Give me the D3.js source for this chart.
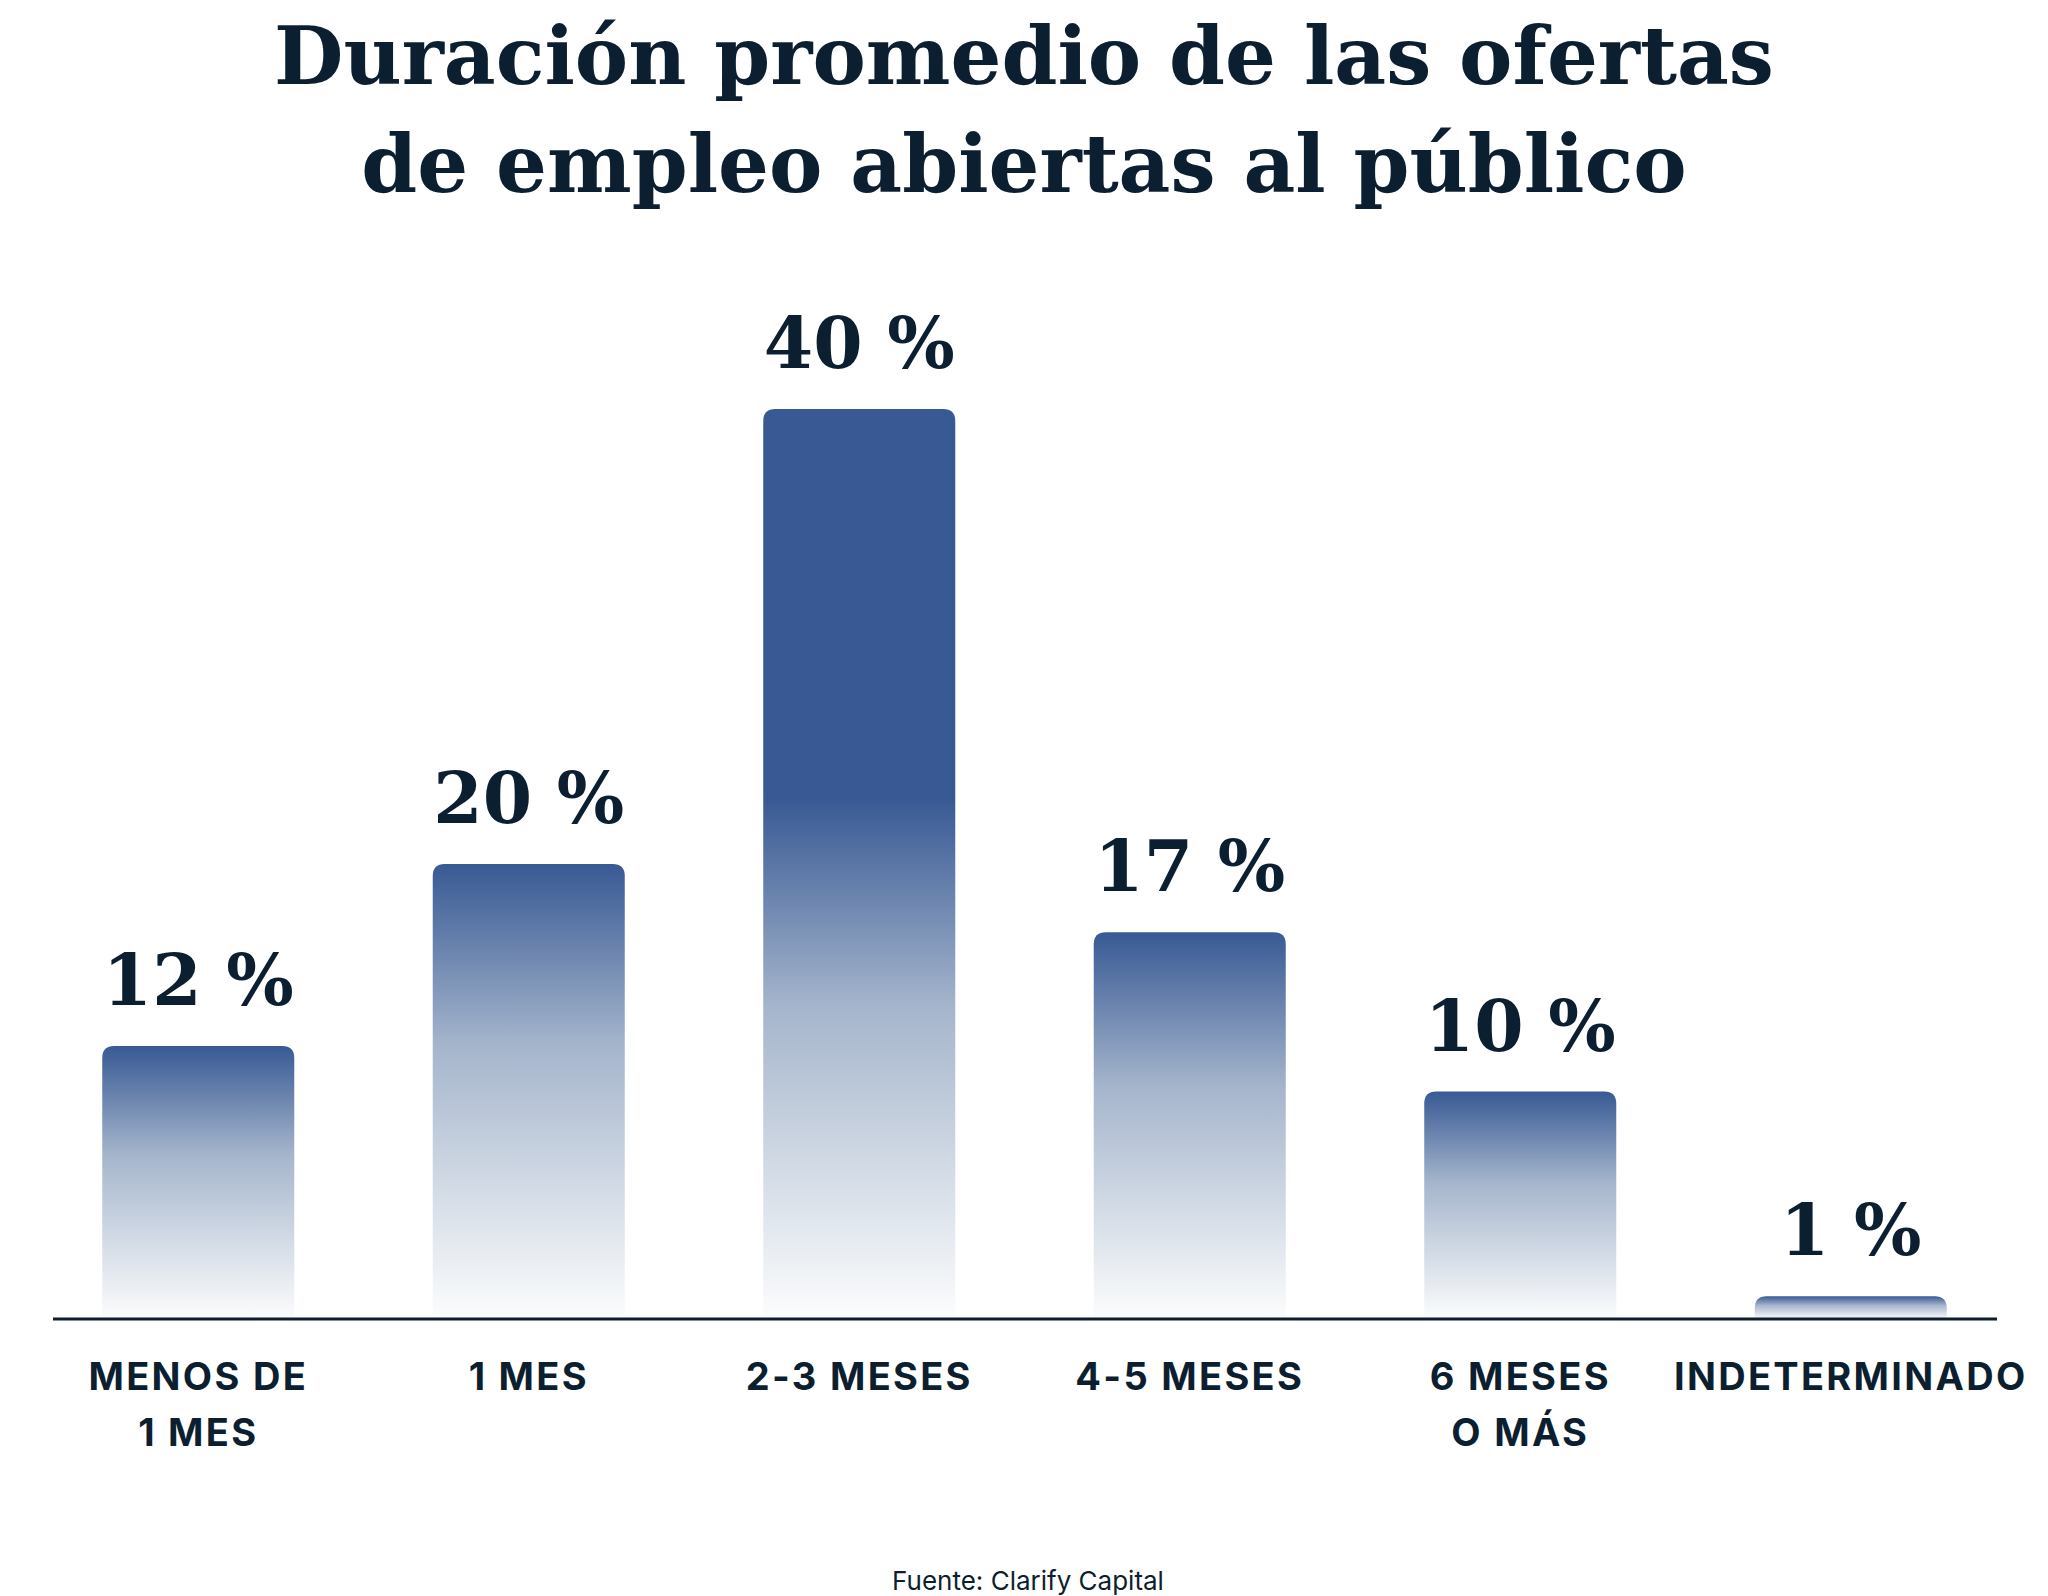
<!DOCTYPE html>
<html>
<head>
<meta charset="utf-8">
<script src="https://cdn.jsdelivr.net/npm/d3@7"></script>
<style>
  body { margin: 0; background: #ffffff; }
</style>
</head>
<body>
<div id="chart"></div>
<script>
// data
const categories = [["MENOS DE", "1 MES"], ["1 MES"], ["2-3 MESES"], ["4-5 MESES"], ["6 MESES", "O MÁS"], ["INDETERMINADO"]];
const values = [12, 20, 40, 17, 10, 1];
const titleLines = ["Duración promedio de las ofertas", "de empleo abiertas al público"];
const source = "Fuente: Clarify Capital";

const width = 2048, height = 1596;
const ink = "#0c1f30";

const svg = d3.select("#chart")
    .append("svg")
    .attr("width", width)
    .attr("height", height)
    .attr("viewBox", [0, 0, width, height]);

// x: one band per category
const x = d3.scaleBand()
    .domain(d3.range(values.length))
    .range([33, 2016])
    .paddingInner(0.419)
    .paddingOuter(0.2095);

// y: percent to pixels, baseline on the axis line
const y = d3.scaleLinear()
    .domain([0, 40])
    .range([1319, 409]);

// title, fitted to the width of the first line
const title = svg.append("g")
    .attr("font-family", "'DejaVu Serif', serif")
    .attr("font-weight", "bold")
    .attr("fill", ink)
    .attr("text-anchor", "middle");

title.selectAll("text")
    .data(titleLines)
    .join("text")
      .attr("x", 1024)
      .attr("y", (d, i) => 84 + i * 108)
      .attr("font-size", 80)
      .text(d => d);

const firstW = title.select("text").node().getComputedTextLength();
title.selectAll("text").attr("font-size", 80 * 1500 / firstW);

// one gradient per bar: solid top, fade to white over the last ~520px
const defs = svg.append("defs");
values.forEach((v, i) => {
  const h = y(0) - y(v);
  const fadeStart = Math.max(0, 1 - 520 / h);
  const g = defs.append("linearGradient")
      .attr("id", "grad" + i)
      .attr("x1", 0).attr("y1", 0)
      .attr("x2", 0).attr("y2", 1);
  g.append("stop").attr("offset", 0).attr("stop-color", "#385994");
  g.append("stop").attr("offset", fadeStart).attr("stop-color", "#385994");
  g.append("stop").attr("offset", fadeStart + (1 - fadeStart) * 0.4).attr("stop-color", "#a5b5cc");
  g.append("stop").attr("offset", 1).attr("stop-color", "#fcfdfd");
});

// bars with rounded top corners only
const r = 12;
const barPath = (d, i) => {
  const x0 = x(i), x1 = x(i) + x.bandwidth();
  const top = y(d), bottom = y(0);
  const rr = Math.min(r, (bottom - top));
  return `M${x0},${bottom} V${top + rr} Q${x0},${top} ${x0 + rr},${top} H${x1 - rr} Q${x1},${top} ${x1},${top + rr} V${bottom} Z`;
};

svg.append("g")
  .selectAll("path")
  .data(values)
  .join("path")
    .attr("d", barPath)
    .attr("fill", (d, i) => `url(#grad${i})`);

// value labels above the bars
svg.append("g")
    .attr("font-family", "'DejaVu Serif', serif")
    .attr("font-weight", "bold")
    .attr("font-size", 71)
    .attr("fill", ink)
    .attr("text-anchor", "middle")
  .selectAll("text")
  .data(values)
  .join("text")
    .attr("x", (d, i) => x(i) + x.bandwidth() / 2)
    .attr("y", d => y(d) - 41)
    .text(d => d + " %");

// axis line
svg.append("line")
    .attr("x1", 53).attr("x2", 1997)
    .attr("y1", y(0)).attr("y2", y(0))
    .attr("stroke", ink)
    .attr("stroke-width", 3);

// category labels
const cats = svg.append("g")
    .attr("font-family", "Inter, 'Noto Sans', sans-serif")
    .attr("font-weight", "bold")
    .attr("font-size", 38)
    .attr("letter-spacing", 2.3)
    .attr("fill", ink)
    .attr("text-anchor", "middle")
  .selectAll("text")
  .data(categories)
  .join("text")
    .attr("transform", (d, i) => `translate(${x(i) + x.bandwidth() / 2},1390)`);

cats.selectAll("tspan")
  .data(d => d)
  .join("tspan")
    .attr("x", 0)
    .attr("y", (d, j) => j * 56)
    .text(d => d);

// source note
svg.append("text")
    .attr("x", 1028)
    .attr("y", 1590)
    .attr("text-anchor", "middle")
    .attr("font-family", "Inter, 'Noto Sans', sans-serif")
    .attr("font-size", 26)
    .attr("fill", ink)
    .text(source);
</script>
</body>
</html>
